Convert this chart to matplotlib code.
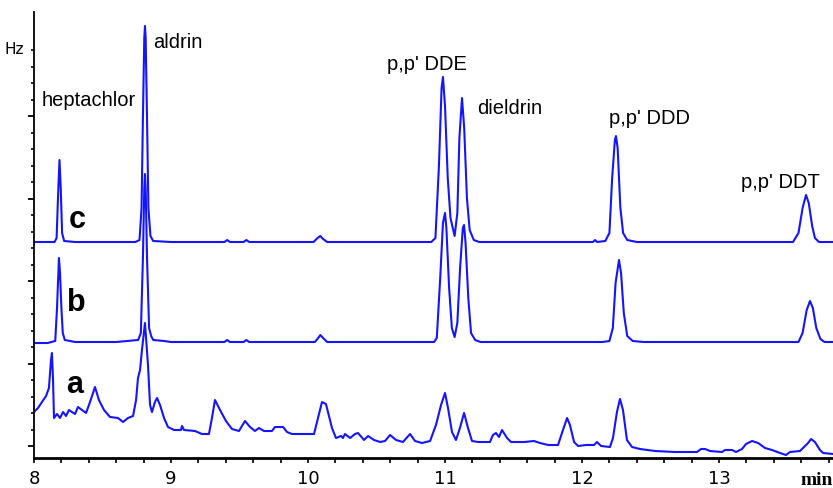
import numpy as np
import matplotlib
matplotlib.use("Agg")
import matplotlib.pyplot as plt
from matplotlib.ticker import FixedLocator, MultipleLocator

# Chromatogram traces (time in min, signal in arbitrary units)
# trace c (standard, top)
c_time = [8.000, 8.150, 8.165, 8.175, 8.186, 8.195, 8.205, 8.220, 8.300, 8.740,
          8.770, 8.785, 8.795, 8.805, 8.810, 8.815, 8.825, 8.835, 8.850, 8.870,
          9.000, 9.390, 9.410, 9.430, 9.530, 9.550, 9.570, 10.040, 10.070, 10.090,
          10.110, 10.140, 10.900, 10.930, 10.955, 10.975, 10.985, 11.000, 11.020, 11.040,
          11.070, 11.090, 11.105, 11.124, 11.140, 11.160, 11.180, 11.210, 11.250, 12.080,
          12.095, 12.110, 12.170, 12.200, 12.220, 12.240, 12.248, 12.260, 12.280, 12.300,
          12.330, 12.400, 13.540, 13.580, 13.610, 13.635, 13.655, 13.680, 13.700, 13.730,
          13.832]
c_signal = [216, 216, 220, 260, 298, 270, 225, 217, 216, 216,
            218, 250, 340, 420, 432, 420, 340, 250, 222, 217,
            216, 216, 218, 216, 216, 218, 216, 216, 220, 222,
            219, 216, 216, 220, 290, 370, 381, 352, 280, 240,
            222, 245, 320, 360, 330, 260, 228, 218, 216, 216,
            218, 216, 217, 225, 280, 318, 322, 310, 250, 225,
            218, 216, 216, 225, 250, 263, 255, 232, 220, 216,
            216]

# trace b (middle)
b_time = [8.000, 8.100, 8.155, 8.168, 8.182, 8.190, 8.200, 8.210, 8.225, 8.300,
          8.600, 8.760, 8.780, 8.795, 8.805, 8.810, 8.815, 8.825, 8.840, 8.855,
          8.870, 8.950, 9.000, 9.390, 9.410, 9.430, 9.530, 9.550, 9.570, 10.050,
          10.080, 10.090, 10.110, 10.140, 10.920, 10.940, 10.965, 10.985, 11.000, 11.010,
          11.030, 11.050, 11.070, 11.090, 11.110, 11.130, 11.139, 11.150, 11.170, 11.190,
          11.220, 11.260, 12.150, 12.200, 12.225, 12.245, 12.270, 12.285, 12.305, 12.330,
          12.370, 12.450, 13.580, 13.610, 13.640, 13.664, 13.685, 13.710, 13.740, 13.770,
          13.832]
b_signal = [115, 115, 117, 150, 200, 185, 150, 125, 118, 116,
            116, 118, 125, 200, 270, 284, 270, 200, 130, 122,
            118, 117, 116, 116, 118, 116, 116, 118, 116, 116,
            121, 123, 120, 116, 116, 120, 180, 235, 245, 230,
            170, 130, 121, 135, 190, 230, 233, 215, 160, 125,
            118, 116, 116, 117, 130, 175, 198, 185, 145, 122,
            117, 116, 116, 125, 148, 157, 150, 130, 119, 116,
            116]

# trace a (sample, bottom)
a_time = [8.000, 8.029, 8.058, 8.088, 8.109, 8.124, 8.131, 8.139, 8.146, 8.168,
          8.190, 8.212, 8.234, 8.255, 8.277, 8.299, 8.321, 8.350, 8.380, 8.409,
          8.445, 8.474, 8.511, 8.555, 8.613, 8.650, 8.686, 8.723, 8.745, 8.759,
          8.774, 8.788, 8.810, 8.832, 8.847, 8.861, 8.883, 8.898, 8.920, 8.949,
          8.978, 9.022, 9.073, 9.080, 9.095, 9.175, 9.226, 9.277, 9.299, 9.321,
          9.358, 9.401, 9.445, 9.496, 9.540, 9.577, 9.613, 9.642, 9.679, 9.737,
          9.759, 9.818, 9.847, 9.883, 9.942, 10.044, 10.073, 10.102, 10.131, 10.175,
          10.204, 10.241, 10.255, 10.270, 10.307, 10.343, 10.365, 10.409, 10.438, 10.482,
          10.526, 10.562, 10.599, 10.643, 10.693, 10.745, 10.781, 10.832, 10.891, 10.934,
          10.971, 11.000, 11.022, 11.051, 11.080, 11.109, 11.139, 11.168, 11.197, 11.241,
          11.328, 11.350, 11.372, 11.394, 11.416, 11.453, 11.482, 11.577, 11.650, 11.693,
          11.752, 11.825, 11.861, 11.891, 11.912, 11.942, 11.971, 12.029, 12.088, 12.109,
          12.139, 12.204, 12.226, 12.255, 12.277, 12.299, 12.328, 12.365, 12.423, 12.533,
          12.679, 12.839, 12.869, 12.898, 12.934, 13.022, 13.044, 13.095, 13.124, 13.168,
          13.197, 13.241, 13.285, 13.336, 13.387, 13.445, 13.489, 13.518, 13.591, 13.613,
          13.650, 13.672, 13.700, 13.737, 13.760, 13.832]
a_signal = [46, 50, 56, 62, 70, 98, 105, 78, 40, 44,
            40, 46, 42, 48, 46, 44, 51, 48, 45, 56,
            71, 58, 48, 41, 40, 36, 40, 42, 58, 80,
            88, 108, 135, 93, 53, 46, 56, 60, 53, 40,
            31, 28, 28, 32, 28, 27, 24, 24, 40, 58,
            48, 37, 29, 27, 37, 31, 27, 30, 27, 27,
            31, 31, 26, 24, 24, 24, 40, 56, 54, 30,
            20, 22, 20, 24, 20, 24, 25, 18, 22, 18,
            16, 17, 23, 18, 16, 24, 17, 15, 17, 33,
            53, 65, 50, 26, 18, 30, 45, 30, 17, 16,
            16, 23, 25, 21, 28, 20, 16, 16, 17, 15,
            13, 13, 28, 40, 33, 16, 12, 13, 13, 16,
            12, 11, 20, 46, 59, 48, 18, 11, 9, 7,
            6, 6, 9, 9, 7, 6, 8, 8, 6, 9,
            14, 17, 15, 10, 8, 5, 3, 6, 7, 10,
            15, 19, 16, 8, 5, 4]

compounds = ["heptachlor", "aldrin", "p,p' DDE", "dieldrin", "p,p' DDD", "p,p' DDT"]
compound_x = [8.058, 8.869, 10.577, 11.234, 12.197, 13.161]
compound_y = [358, 416, 394, 350, 340, 276]

trace_names = ["c", "b", "a"]
trace_label_x = [8.314, 8.307, 8.299]
trace_label_y = [238, 155, 73]

x_major = [8, 9, 10, 11, 12, 13]
y_major = [12 + 82.5 * k for k in range(5)]
y_minor = [12 + 16.5 * k for k in range(25)]

blue = "#1414ff"
narrow = ["Liberation Sans Narrow", "DejaVu Sans"]
sans = ["Liberation Sans", "DejaVu Sans"]

fig = plt.figure(figsize=(8.33, 4.88), dpi=100)
ax = fig.add_axes([34 / 833, 30 / 488, 799 / 833, 446 / 488])

for t, s in [(c_time, c_signal), (b_time, b_signal), (a_time, a_signal)]:
    ax.plot(t, s, color=blue, lw=1.5, solid_joinstyle="round")

ax.set_xlim(8, 13.832)
ax.set_ylim(0, 446)

for spine in ["top", "right"]:
    ax.spines[spine].set_visible(False)
ax.spines["left"].set_linewidth(1.3)
ax.spines["bottom"].set_linewidth(2.0)

ax.xaxis.set_major_locator(FixedLocator(x_major))
ax.xaxis.set_minor_locator(MultipleLocator(0.2))
ax.yaxis.set_major_locator(FixedLocator(y_major))
ax.yaxis.set_minor_locator(FixedLocator(y_minor))
ax.set_yticklabels([])
ax.tick_params(axis="x", which="both", direction="out", length=3.5, width=1.2, pad=5)
ax.tick_params(axis="y", which="major", direction="out", length=4.5, width=1.3)
ax.tick_params(axis="y", which="minor", direction="out", length=2.5, width=1.2)
ax.set_xticklabels([str(v) for v in x_major], family=narrow, fontsize=13)

ax.text(7.927, 408, "Hz", ha="right", va="center", family=narrow, fontsize=11, clip_on=False)
ax.text(13.83, -27, "min", ha="right", va="baseline", family=["Liberation Serif", "DejaVu Serif"],
        fontweight="bold", fontsize=14, clip_on=False)

for name, x, y in zip(compounds, compound_x, compound_y):
    ax.text(x, y, name, ha="left", va="center", family=sans, fontsize=14.5)

for name, x, y in zip(trace_names, trace_label_x, trace_label_y):
    ax.text(x, y, name, ha="center", va="center", family=sans, fontsize=22, fontweight="bold")

fig.savefig("out.png", dpi=100)
